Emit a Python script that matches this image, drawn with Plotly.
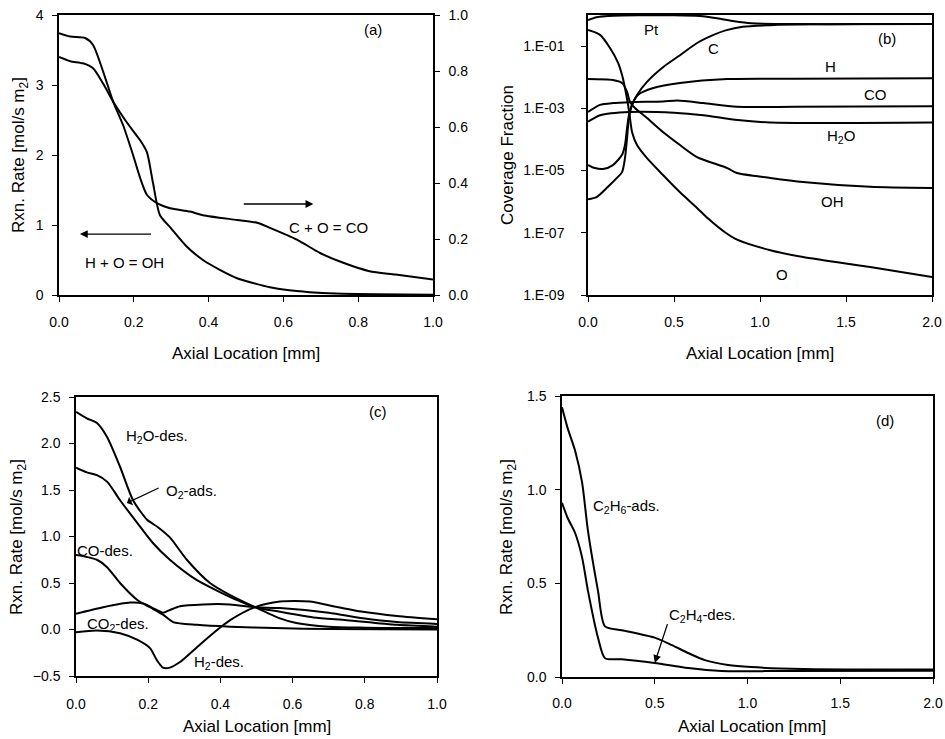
import plotly.graph_objects as go

# ---------------- Panel (a) ----------------
a_oh_x = [0, 0.03, 0.064, 0.091, 0.118, 0.145, 0.182, 0.217, 0.235, 0.251, 0.27, 0.297, 0.342, 0.385, 0.43, 0.476, 0.52, 0.564, 0.61, 0.67, 0.74, 0.85, 1.0]
a_oh_y = [3.40, 3.34, 3.31, 3.24, 3.02, 2.76, 2.46, 2.21, 2.04, 1.61, 1.14, 0.97, 0.69, 0.50, 0.36, 0.24, 0.17, 0.11, 0.07, 0.04, 0.02, 0.01, 0.005]
a_co_x = [0, 0.03, 0.07, 0.091, 0.118, 0.145, 0.171, 0.198, 0.217, 0.235, 0.262, 0.297, 0.35, 0.385, 0.476, 0.53, 0.564, 0.636, 0.698, 0.76, 0.83, 0.9, 1.0]
a_co_y = [0.935, 0.923, 0.918, 0.893, 0.798, 0.69, 0.608, 0.50, 0.418, 0.358, 0.328, 0.31, 0.298, 0.285, 0.268, 0.258, 0.24, 0.198, 0.15, 0.115, 0.085, 0.073, 0.055]

# ---------------- Panel (b) ----------------
b_pt_x = [0, 0.05, 0.15, 0.3, 0.5, 0.65, 0.75, 0.85, 0.95, 1.2, 1.6, 2.0]
b_pt_y = [0.69, 0.85, 0.95, 0.98, 0.98, 0.93, 0.79, 0.63, 0.54, 0.51, 0.51, 0.51]
b_o_x = [0, 0.07, 0.128, 0.175, 0.198, 0.215, 0.233, 0.244, 0.256, 0.285, 0.343, 0.436, 0.535, 0.634, 0.7, 0.8, 0.87, 1.06, 1.25, 1.64, 2.0]
b_o_y = [0.33, 0.23, 0.087, 0.029, 0.0117, 0.0045, 1.29e-3, 4.9e-4, 1.74e-4, 6.6e-5, 2.5e-5, 7.2e-6, 2.0e-6, 6.3e-7, 2.8e-7, 1.0e-7, 5.9e-8, 2.75e-8, 1.66e-8, 7.9e-9, 3.8e-9]
b_c_x = [0, 0.04, 0.087, 0.145, 0.198, 0.215, 0.227, 0.238, 0.256, 0.285, 0.343, 0.436, 0.535, 0.634, 0.73, 0.8, 0.9, 1.06, 1.3, 2.0]
b_c_y = [1.5e-5, 1.2e-5, 1.12e-5, 1.5e-5, 3.2e-5, 6.6e-5, 2.3e-4, 6.0e-4, 1.29e-3, 2.7e-3, 7.1e-3, 0.021, 0.051, 0.126, 0.23, 0.32, 0.42, 0.47, 0.5, 0.51]
b_oh_x = [0, 0.145, 0.198, 0.227, 0.244, 0.273, 0.343, 0.436, 0.535, 0.634, 0.81, 0.866, 1.06, 1.25, 1.64, 2.0]
b_oh_y = [8.7e-3, 8.1e-3, 6.5e-3, 3.4e-3, 1.58e-3, 1.02e-3, 4.9e-4, 1.74e-4, 6.6e-5, 2.7e-5, 1.2e-5, 8.3e-6, 5.8e-6, 4.3e-6, 3.0e-6, 2.75e-6]
b_h_x = [0, 0.05, 0.116, 0.168, 0.198, 0.215, 0.227, 0.238, 0.256, 0.29, 0.38, 0.535, 0.81, 1.2, 2.0]
b_h_y = [1.2e-6, 1.4e-6, 3.0e-6, 5.8e-6, 8.9e-6, 2.5e-5, 1.1e-4, 4.9e-4, 1.29e-3, 2.7e-3, 4.5e-3, 6.5e-3, 8.7e-3, 8.9e-3, 9.3e-3]
b_co_x = [0, 0.07, 0.145, 0.244, 0.436, 0.52, 0.67, 0.866, 1.2, 2.0]
b_co_y = [7.6e-4, 1.29e-3, 1.48e-3, 1.58e-3, 1.66e-3, 1.78e-3, 1.48e-3, 1.12e-3, 1.12e-3, 1.17e-3]
b_h2o_x = [0, 0.07, 0.244, 0.5, 0.67, 0.87, 1.06, 2.0]
b_h2o_y = [3.7e-4, 6.0e-4, 7.6e-4, 7.2e-4, 6.0e-4, 4.2e-4, 3.5e-4, 3.5e-4]
b_tickvals = [1e-1, 1e-3, 1e-5, 1e-7, 1e-9]
b_ticktext = ["1.E-01", "1.E-03", "1.E-05", "1.E-07", "1.E-09"]

# ---------------- Panel (c) ----------------
c_h2o_x = [0, 0.03, 0.058, 0.086, 0.122, 0.158, 0.197, 0.227, 0.26, 0.307, 0.371, 0.427, 0.496, 0.565, 0.61, 0.70, 0.8, 0.9, 1.0]
c_h2o_y = [2.34, 2.27, 2.22, 2.07, 1.75, 1.39, 1.18, 1.10, 0.99, 0.75, 0.50, 0.37, 0.24, 0.12, 0.07, 0.03, 0.02, 0.015, 0.015]
c_o2_x = [0, 0.03, 0.058, 0.086, 0.122, 0.169, 0.213, 0.26, 0.335, 0.4, 0.45, 0.496, 0.565, 0.657, 0.75, 0.889, 1.0]
c_o2_y = [1.74, 1.69, 1.66, 1.59, 1.39, 1.15, 0.93, 0.75, 0.53, 0.40, 0.31, 0.24, 0.19, 0.13, 0.10, 0.05, 0.03]
c_co_x = [0, 0.03, 0.058, 0.086, 0.122, 0.169, 0.205, 0.241, 0.269, 0.335, 0.427, 0.55, 0.7, 1.0]
c_co_y = [0.80, 0.78, 0.75, 0.67, 0.50, 0.32, 0.24, 0.16, 0.08, 0.05, 0.03, 0.015, 0.005, 0.0]
c_co2_x = [0, 0.075, 0.15, 0.186, 0.213, 0.241, 0.26, 0.288, 0.352, 0.427, 0.496, 0.565, 0.70, 0.795, 0.889, 1.0]
c_co2_y = [0.17, 0.24, 0.29, 0.28, 0.23, 0.18, 0.21, 0.25, 0.27, 0.27, 0.24, 0.23, 0.18, 0.12, 0.08, 0.06]
c_h2_x = [0, 0.058, 0.122, 0.169, 0.205, 0.224, 0.241, 0.26, 0.288, 0.335, 0.38, 0.427, 0.496, 0.565, 0.648, 0.70, 0.795, 0.889, 1.0]
c_h2_y = [-0.03, -0.01, -0.04, -0.11, -0.20, -0.33, -0.41, -0.41, -0.35, -0.19, -0.04, 0.10, 0.24, 0.30, 0.30, 0.26, 0.19, 0.145, 0.11]

# ---------------- Panel (d) ----------------
d_c2h6_x = [0, 0.03, 0.07, 0.108, 0.14, 0.194, 0.232, 0.323, 0.5, 0.593, 0.68, 0.77, 0.895, 1.02, 1.3, 2.0]
d_c2h6_y = [1.44, 1.33, 1.21, 1.04, 0.78, 0.46, 0.27, 0.25, 0.21, 0.17, 0.128, 0.09, 0.064, 0.053, 0.043, 0.04]
d_c2h4_x = [0, 0.03, 0.07, 0.108, 0.14, 0.194, 0.232, 0.323, 0.5, 0.68, 0.86, 1.2, 2.0]
d_c2h4_y = [0.93, 0.85, 0.77, 0.64, 0.46, 0.21, 0.10, 0.095, 0.075, 0.048, 0.032, 0.032, 0.033]

W, H = 945, 739
FONT = "Liberation Sans, Arial, sans-serif"
LINE = dict(color="black", width=2, shape="spline", smoothing=0.7)


def px_x(p):
    return p / W


def px_y(p):
    return 1 - p / H


fig = go.Figure()


def add(x, y, xa, ya):
    fig.add_trace(go.Scatter(x=x, y=y, mode="lines", line=LINE, xaxis=xa, yaxis=ya,
                             showlegend=False, hoverinfo="skip"))


add(a_oh_x, a_oh_y, "x", "y")
add(a_co_x, a_co_y, "x", "y2")
for xx, yy in [(b_pt_x, b_pt_y), (b_o_x, b_o_y), (b_c_x, b_c_y), (b_oh_x, b_oh_y),
               (b_h_x, b_h_y), (b_co_x, b_co_y), (b_h2o_x, b_h2o_y)]:
    add(xx, yy, "x2", "y3")
for xx, yy in [(c_h2o_x, c_h2o_y), (c_o2_x, c_o2_y), (c_co_x, c_co_y), (c_co2_x, c_co2_y), (c_h2_x, c_h2_y)]:
    add(xx, yy, "x3", "y4")
for xx, yy in [(d_c2h6_x, d_c2h6_y), (d_c2h4_x, d_c2h4_y)]:
    add(xx, yy, "x4", "y5")

tickfont = dict(family=FONT, size=14, color="black")
base = dict(showline=True, linecolor="black", linewidth=1.5, ticks="outside", ticklen=5,
            tickwidth=1.2, tickcolor="black", showgrid=False, zeroline=False,
            tickfont=tickfont, automargin=False)

ya_dom = [px_y(295), px_y(15)]
yc_dom = [px_y(676), px_y(397)]
yd_dom = [px_y(677), px_y(396)]

fig.update_layout(
    width=W, height=H, margin=dict(l=0, r=0, t=0, b=0),
    paper_bgcolor="white", plot_bgcolor="white",
    font=dict(family=FONT, color="black"),
    xaxis=dict(base, domain=[px_x(59), px_x(433)], range=[0, 1], dtick=0.2, tickformat=".1f",
               mirror=True, anchor="y", ticklabelstandoff=8),
    yaxis=dict(base, domain=ya_dom, range=[0, 4], dtick=1, anchor="x", ticklabelstandoff=6),
    yaxis2=dict(base, range=[0, 1], dtick=0.2, tickformat=".1f", overlaying="y", side="right",
                anchor="x", ticklabelstandoff=6),
    xaxis2=dict(base, domain=[px_x(588), px_x(932)], range=[0, 2], dtick=0.5, tickformat=".1f",
                mirror=True, anchor="y3", ticklabelstandoff=8),
    yaxis3=dict(base, domain=ya_dom, type="log", range=[-9, 0], tickvals=b_tickvals,
                ticktext=b_ticktext, mirror=True, anchor="x2", ticklabelstandoff=14),
    xaxis3=dict(base, domain=[px_x(76), px_x(437)], range=[0, 1], dtick=0.2, tickformat=".1f",
                mirror=True, anchor="y4", ticklabelstandoff=9),
    yaxis4=dict(base, domain=yc_dom, range=[-0.5, 2.5], dtick=0.5, tickformat=".1f",
                mirror=True, anchor="x3", ticklabelstandoff=6),
    xaxis4=dict(base, domain=[px_x(562), px_x(933)], range=[0, 2], dtick=0.5, tickformat=".1f",
                mirror=True, anchor="y5", ticklabelstandoff=7),
    yaxis5=dict(base, domain=yd_dom, range=[0, 1.5], dtick=0.5, tickformat=".1f",
                mirror=True, anchor="x4", ticklabelstandoff=6),
)

ann = []
titf = dict(family=FONT, size=17, color="black")


def lab(text, x, y, xr, yr, size=15):
    ann.append(dict(text=text, x=x, y=y, xref=xr, yref=yr, showarrow=False,
                    font=dict(family=FONT, size=size, color="black")))


def ptxt(text, px, py, angle=0):
    ann.append(dict(text=text, x=px_x(px), y=px_y(py), xref="paper", yref="paper",
                    showarrow=False, textangle=angle, font=titf,
                    xanchor="center", yanchor="middle"))


# axis titles
ptxt("Axial Location [mm]", 246, 353)
ptxt("Axial Location [mm]", 760, 353)
ptxt("Axial Location [mm]", 257, 726)
ptxt("Axial Location [mm]", 752, 726)
ptxt("Rxn. Rate [mol/s m<sub>2</sub>]", 20, 155, -90)
ptxt("Coverage Fraction", 508, 155, -90)
ptxt("Rxn. Rate [mol/s m<sub>2</sub>]", 18, 537, -90)
ptxt("Rxn. Rate [mol/s m<sub>2</sub>]", 508, 537, -90)

# panel (a)
lab("(a)", 0.84, 3.8, "x", "y")
lab("C + O = CO", 0.72, 0.97, "x", "y")
lab("H + O = OH", 0.176, 0.47, "x", "y")
ann.append(dict(x=0.68, y=1.3, ax=0.49, ay=1.3, xref="x", yref="y", axref="x", ayref="y",
                showarrow=True, arrowhead=2, arrowsize=1.2, arrowwidth=1.3, arrowcolor="black", text=""))
ann.append(dict(x=0.056, y=0.87, ax=0.25, ay=0.87, xref="x", yref="y", axref="x", ayref="y",
                showarrow=True, arrowhead=2, arrowsize=1.2, arrowwidth=1.3, arrowcolor="black", text=""))

# panel (b)  (log axis: annotation y in log10 units)
for t, x, y in [("Pt", 0.37, -0.48), ("C", 0.73, -1.09), ("(b)", 1.74, -0.77), ("H", 1.41, -1.64),
                ("CO", 1.67, -2.57), ("H<sub>2</sub>O", 1.47, -3.92), ("OH", 1.42, -6.01), ("O", 1.13, -8.33)]:
    lab(t, x, y, "x2", "y3")

# panel (c)
lab("(c)", 0.837, 2.34, "x3", "y4")
lab("H<sub>2</sub>O-des.", 0.224, 2.07, "x3", "y4")
lab("O<sub>2</sub>-ads.", 0.32, 1.48, "x3", "y4")
lab("CO-des.", 0.08, 0.85, "x3", "y4")
lab("CO<sub>2</sub>-des.", 0.116, 0.05, "x3", "y4")
lab("H<sub>2</sub>-des.", 0.396, -0.35, "x3", "y4")
ann.append(dict(x=0.141, y=1.36, ax=0.233, ay=1.53, xref="x3", yref="y4", axref="x3", ayref="y4",
                showarrow=True, arrowhead=1, arrowsize=1.3, arrowwidth=1.2, arrowcolor="black", text=""))

# panel (d)
lab("(d)", 1.74, 1.37, "x4", "y5")
lab("C<sub>2</sub>H<sub>6</sub>-ads.", 0.345, 0.91, "x4", "y5")
lab("C<sub>2</sub>H<sub>4</sub>-des.", 0.76, 0.33, "x4", "y5")
ann.append(dict(x=0.50, y=0.075, ax=0.571, ay=0.29, xref="x4", yref="y5", axref="x4", ayref="y5",
                showarrow=True, arrowhead=2, arrowsize=1.2, arrowwidth=1.3, arrowcolor="black", text=""))

fig.update_layout(annotations=ann)
fig.write_html("out.html")
